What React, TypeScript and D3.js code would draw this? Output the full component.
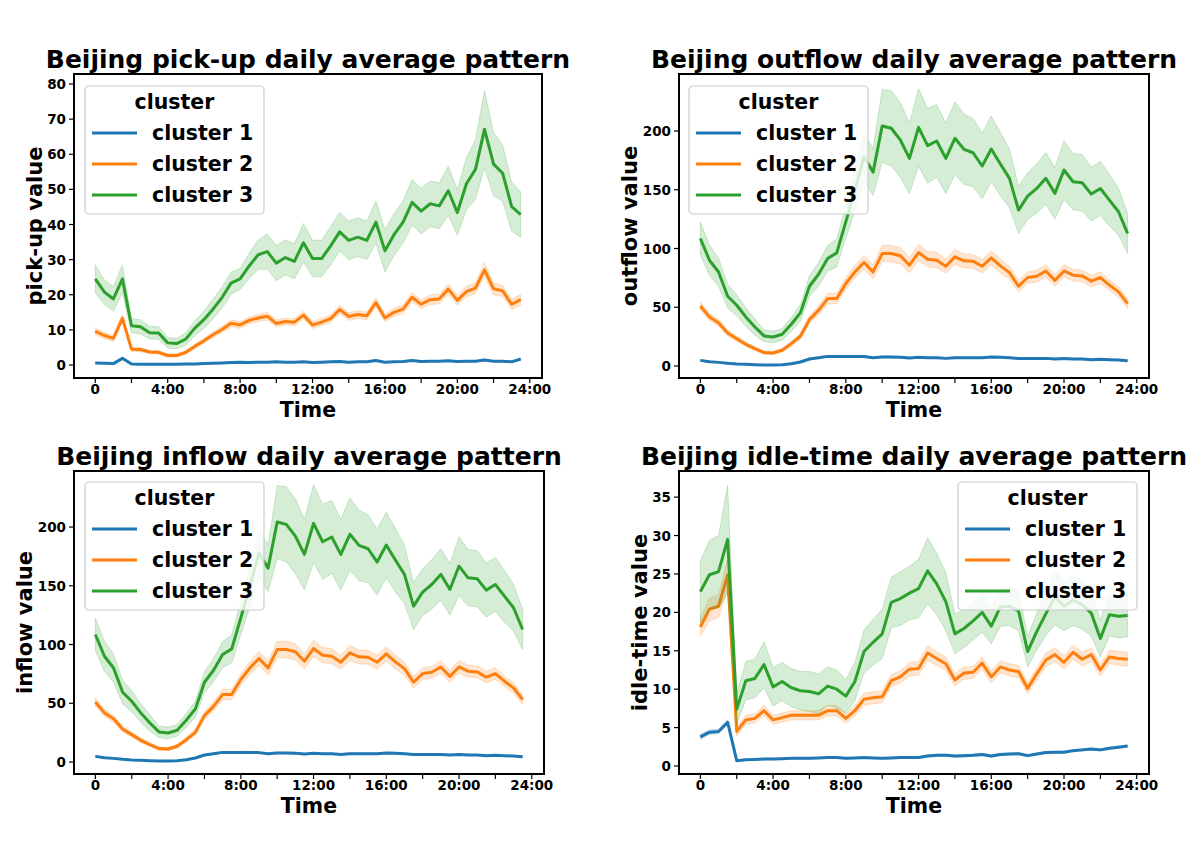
import React from 'react';
import * as d3 from 'd3';

// 반시간 간격 (0, 0.5, ... 23.5)
const hours = d3.range(48).map((i) => i / 2);
const clusterNames = ['cluster 1', 'cluster 2', 'cluster 3'];
const clusterColors = ['#1f77b4', '#ff7f0e', '#2ca02c'];
const xTickHours = [0, 2, 4, 6, 8, 10, 12, 14, 16, 18, 20, 22, 24];

// pick-up
const pickupC1 = [0.6, 0.5, 0.4, 1.9, 0.3, 0.2, 0.2, 0.2, 0.2, 0.2, 0.3, 0.3, 0.4, 0.5, 0.6, 0.7, 0.8, 0.7, 0.8, 0.8, 0.9, 0.8, 0.8, 0.9, 0.7, 0.8, 0.9, 1.0, 0.8, 0.9, 0.9, 1.3, 0.8, 0.9, 1.0, 1.3, 1.0, 1.1, 1.1, 1.2, 1.0, 1.1, 1.1, 1.4, 1.1, 1.1, 0.9, 1.7];
const pickupC1Err = [0.2, 0.2, 0.2, 0.3, 0.1, 0.1, 0.1, 0.1, 0.1, 0.1, 0.1, 0.1, 0.1, 0.1, 0.1, 0.1, 0.1, 0.1, 0.1, 0.1, 0.1, 0.1, 0.1, 0.1, 0.1, 0.1, 0.1, 0.1, 0.1, 0.1, 0.1, 0.2, 0.1, 0.1, 0.1, 0.2, 0.1, 0.1, 0.1, 0.2, 0.1, 0.1, 0.1, 0.2, 0.1, 0.1, 0.1, 0.2];
const pickupC2 = [9.6, 8.4, 7.6, 13.3, 4.5, 4.4, 3.7, 3.6, 2.7, 2.7, 3.6, 5.3, 6.9, 8.6, 10.1, 11.9, 11.4, 12.7, 13.4, 13.9, 11.8, 12.4, 12.2, 14.2, 11.4, 12.2, 13.2, 15.8, 13.8, 14.4, 14.0, 17.8, 13.4, 15.0, 15.9, 19.3, 17.3, 18.6, 18.8, 21.6, 18.4, 20.9, 21.9, 27.1, 21.7, 21.1, 17.3, 18.6];
const pickupC2Err = [1.0, 0.9, 0.9, 1.2, 0.6, 0.6, 0.5, 0.5, 0.5, 0.5, 0.5, 0.6, 0.7, 0.8, 0.9, 1.0, 1.0, 1.0, 1.0, 1.1, 1.0, 1.0, 1.0, 1.1, 1.0, 1.0, 1.1, 1.2, 1.1, 1.1, 1.1, 1.3, 1.1, 1.2, 1.2, 1.4, 1.3, 1.4, 1.4, 1.5, 1.4, 1.5, 1.6, 2.0, 1.7, 1.6, 1.5, 1.5];
const pickupC3 = [24.5, 20.8, 18.8, 24.5, 11.2, 10.9, 9.2, 9.1, 6.3, 6.1, 7.4, 10.5, 12.9, 15.9, 19.2, 23.3, 24.5, 28.2, 31.4, 32.3, 29.0, 30.6, 29.5, 34.8, 30.3, 30.3, 33.9, 37.9, 35.5, 36.4, 35.5, 40.7, 32.5, 37.1, 40.7, 46.3, 43.8, 45.9, 45.3, 49.6, 43.4, 51.6, 55.7, 67.1, 57.2, 54.6, 45.1, 42.8];
const pickupC3Err = [4.0, 3.5, 3.5, 4.0, 2.0, 2.0, 1.8, 1.8, 1.5, 1.5, 1.8, 2.2, 2.5, 2.8, 3.0, 3.2, 3.0, 3.6, 4.2, 5.0, 5.0, 5.0, 5.0, 5.5, 5.2, 5.2, 5.5, 5.5, 5.5, 5.5, 5.5, 6.0, 6.0, 6.0, 6.0, 6.5, 6.5, 6.5, 6.5, 7.0, 6.5, 7.5, 8.5, 11.0, 9.0, 8.0, 7.0, 6.5];

// outflow
const outflowC1 = [4.8, 3.7, 3.1, 2.3, 1.7, 1.4, 1.1, 0.9, 0.9, 1.1, 2.0, 3.4, 6.0, 7.1, 8.2, 8.0, 8.2, 8.2, 8.0, 7.1, 7.7, 7.7, 7.4, 6.8, 7.4, 7.1, 7.1, 6.5, 7.1, 7.1, 7.1, 7.1, 7.7, 7.4, 7.1, 6.3, 6.5, 6.5, 6.5, 6.0, 6.3, 6.0, 6.0, 5.4, 5.7, 5.4, 5.1, 4.5];
const outflowC1Err = [0.6, 0.5, 0.5, 0.4, 0.3, 0.3, 0.3, 0.2, 0.2, 0.3, 0.3, 0.4, 0.6, 0.7, 0.8, 0.8, 0.8, 0.8, 0.8, 0.7, 0.7, 0.7, 0.7, 0.7, 0.7, 0.7, 0.7, 0.6, 0.7, 0.7, 0.7, 0.7, 0.7, 0.7, 0.7, 0.6, 0.6, 0.6, 0.6, 0.6, 0.6, 0.6, 0.6, 0.5, 0.5, 0.5, 0.5, 0.5];
const outflowC2 = [51.1, 41.8, 36.9, 28.1, 23.3, 18.5, 14.8, 11.4, 11.1, 13.4, 19.0, 25.3, 39.5, 47.4, 57.4, 57.4, 70.2, 80.1, 88.1, 80.1, 95.7, 95.7, 93.8, 85.8, 96.6, 90.9, 90.1, 84.9, 92.9, 89.5, 89.2, 84.9, 92.0, 85.2, 79.5, 67.9, 75.3, 76.4, 80.9, 72.9, 80.9, 77.3, 76.7, 72.2, 75.3, 68.8, 63.1, 53.1];
const outflowC2Err = [3.5, 3, 3, 2.5, 2, 2, 1.5, 1.5, 1.5, 1.5, 2, 2.5, 3.5, 4, 4.5, 4.5, 5, 5.5, 6, 6, 7, 7, 7, 6.5, 7, 6.5, 6.5, 6, 6.5, 6, 6, 6, 6, 6, 5.5, 5, 5, 5, 5.5, 5, 5.5, 5, 5, 5, 5, 4.5, 4.5, 4];
const outflowC3 = [108.5, 90, 80, 59.4, 51.7, 41.8, 33.2, 25.6, 24.7, 27, 35.5, 45.2, 67.9, 78.1, 91.5, 96.3, 122.7, 150, 178, 165, 204.3, 202.3, 192.3, 176.7, 203.1, 187.5, 191.5, 176.7, 193.8, 184.4, 181.5, 170.2, 184.7, 171.9, 159.7, 132.7, 144.6, 151.1, 159.7, 146.9, 166.8, 156.8, 156.0, 146.3, 151.1, 141.2, 131.3, 112.8];
const outflowC3Err = [14, 13, 12, 10, 9, 8, 7, 5, 5, 5, 6, 7, 9, 10, 11, 12, 14, 18, 20, 20, 31, 32, 32, 30, 33, 32, 31, 30, 31, 30, 29, 28, 28, 27, 25, 20, 20, 21, 22, 22, 25, 24, 24, 23, 23, 22, 20, 17];

// inflow (그림상 outflow와 동일)
const inflowC1 = outflowC1;
const inflowC1Err = outflowC1Err;
const inflowC2 = outflowC2;
const inflowC2Err = outflowC2Err;
const inflowC3 = outflowC3;
const inflowC3Err = outflowC3Err;

// idle-time
const idleC1 = [3.8, 4.4, 4.5, 5.7, 0.7, 0.8, 0.85, 0.9, 0.9, 0.95, 1.0, 1.0, 1.0, 1.05, 1.1, 1.1, 1.0, 1.05, 1.1, 1.05, 1.0, 1.05, 1.1, 1.1, 1.1, 1.3, 1.4, 1.4, 1.3, 1.35, 1.4, 1.5, 1.3, 1.5, 1.55, 1.6, 1.35, 1.55, 1.75, 1.8, 1.8, 2.0, 2.1, 2.2, 2.1, 2.3, 2.45, 2.6];
const idleC1Err = [0.3, 0.3, 0.3, 0.3, 0.1, 0.1, 0.1, 0.1, 0.1, 0.1, 0.1, 0.1, 0.1, 0.1, 0.1, 0.1, 0.1, 0.1, 0.1, 0.1, 0.1, 0.1, 0.1, 0.1, 0.1, 0.15, 0.15, 0.15, 0.15, 0.15, 0.15, 0.15, 0.15, 0.15, 0.15, 0.15, 0.15, 0.15, 0.15, 0.15, 0.15, 0.15, 0.15, 0.15, 0.15, 0.15, 0.15, 0.15];
const idleC2 = [18.1, 20.4, 20.8, 24.9, 4.5, 6.0, 6.2, 7.2, 6.0, 6.3, 6.6, 6.6, 6.6, 6.6, 7.2, 7.2, 6.2, 7.2, 8.7, 8.9, 9.0, 11.1, 11.6, 12.6, 12.7, 14.7, 14.0, 13.3, 11.2, 12.1, 12.2, 13.4, 11.6, 12.9, 12.5, 12.3, 10.1, 12.0, 13.8, 14.5, 13.5, 14.8, 13.9, 14.5, 12.5, 14.2, 14.0, 13.9];
const idleC2Err = [1.2, 1.5, 1.5, 2.0, 0.6, 0.6, 0.6, 0.7, 0.6, 0.6, 0.6, 0.6, 0.6, 0.6, 0.7, 0.7, 0.6, 0.7, 0.8, 0.8, 0.8, 0.8, 0.8, 0.9, 0.9, 1.0, 0.9, 0.9, 0.8, 0.8, 0.8, 0.8, 0.8, 0.8, 0.8, 0.8, 0.7, 0.8, 0.9, 0.9, 0.9, 0.9, 0.9, 0.9, 0.8, 0.9, 0.9, 0.9];
const idleC3 = [22.7, 24.9, 25.3, 29.5, 7.4, 11.1, 11.4, 13.2, 10.3, 11.0, 10.2, 9.8, 9.7, 9.4, 10.4, 10.0, 9.1, 11.0, 14.9, 16.1, 17.2, 21.3, 21.8, 22.5, 23.1, 25.4, 23.7, 21.4, 17.2, 17.9, 18.9, 20.0, 18.2, 20.7, 20.8, 20.2, 14.9, 17.5, 19.8, 22.0, 20.8, 21.6, 21.0, 19.9, 16.6, 19.7, 19.5, 19.6];
const idleC3Err = [4.0, 4.5, 4.7, 7.0, 2.0, 2.5, 2.5, 3.0, 2.5, 2.5, 2.5, 2.5, 2.6, 2.6, 2.5, 2.5, 2.2, 2.5, 2.8, 3.0, 3.2, 3.3, 3.5, 3.5, 3.8, 4.3, 4.0, 3.8, 2.6, 2.5, 2.5, 2.6, 2.3, 2.5, 2.5, 2.6, 2.0, 2.4, 2.8, 3.6, 3.2, 3.3, 3.2, 3.0, 2.4, 2.8, 2.8, 2.8];

const pickupTicks = [0, 10, 20, 30, 40, 50, 60, 70, 80];
const flowTicks = [0, 50, 100, 150, 200];
const idleTicks = [0, 5, 10, 15, 20, 25, 30, 35];

const FONT = '"DejaVu Sans", sans-serif';

interface PanelProps {
  left: number;
  top: number;
  width: number;
  height: number;
  yDomain: [number, number];
  yTicks: number[];
  title: string;
  yLabel: string;
  yLabelX: number;
  means: number[][];
  errs: number[][];
  legendX: number;
  legendY: number;
}

function Panel({ left, top, width, height, yDomain, yTicks, title, yLabel, yLabelX, means, errs, legendX, legendY }: PanelProps) {
  const x = d3.scaleLinear().domain([-1.175, 24.675]).range([left, left + width]);
  const y = d3.scaleLinear().domain(yDomain).range([top + height, top]);
  const bottom = top + height;
  const idx = d3.range(hours.length);

  const legendW = 179;
  const legendH = 128;

  return (
    <g fontFamily={FONT} fontWeight="bold">
      {/* 신뢰구간 + 평균선 */}
      {means.map((mean, k) => {
        const err = errs[k];
        const area = d3
          .area<number>()
          .x((i) => x(hours[i]))
          .y0((i) => y(mean[i] - err[i]))
          .y1((i) => y(mean[i] + err[i]));
        const line = d3
          .line<number>()
          .x((i) => x(hours[i]))
          .y((i) => y(mean[i]));
        return (
          <g key={k}>
            <path d={area(idx) as string} fill={clusterColors[k]} fillOpacity={0.2} stroke={clusterColors[k]} strokeOpacity={0.2} strokeWidth={1} />
            <path d={line(idx) as string} fill="none" stroke={clusterColors[k]} strokeWidth={3} strokeLinejoin="round" />
          </g>
        );
      })}

      {/* 축 테두리 */}
      <rect x={left} y={top} width={width} height={height} fill="none" stroke="#000" strokeWidth={2} />

      {/* x 눈금 */}
      {xTickHours.map((h) => (
        <g key={h}>
          <line x1={x(h)} x2={x(h)} y1={bottom} y2={bottom + 5} stroke="#000" strokeWidth={1.2} />
          {h % 4 === 0 && (
            <text x={x(h)} y={bottom + 16} textAnchor="middle" fontSize={13.5}>
              {h === 0 ? '0' : `${h}:00`}
            </text>
          )}
        </g>
      ))}

      {/* y 눈금 */}
      {yTicks.map((t) => (
        <g key={t}>
          <line x1={left - 5} x2={left} y1={y(t)} y2={y(t)} stroke="#000" strokeWidth={1.2} />
          <text x={left - 8} y={y(t)} textAnchor="end" dominantBaseline="central" fontSize={13.5}>
            {t}
          </text>
        </g>
      ))}

      <text x={left + width / 2} y={bottom + 39} textAnchor="middle" fontSize={20.5}>
        Time
      </text>
      <text
        transform={`translate(${yLabelX}, ${top + height / 2}) rotate(-90)`}
        textAnchor="middle"
        dominantBaseline="central"
        fontSize={21}>
        {yLabel}
      </text>
      <text x={left + width / 2} y={top - 6} textAnchor="middle" fontSize={25}>
        {title}
      </text>

      {/* 범례 */}
      <g transform={`translate(${legendX}, ${legendY})`}>
        <rect x={0} y={0} width={legendW} height={legendH} rx={4} fill="#fff" fillOpacity={0.8} stroke="#cccccc" strokeWidth={1.2} />
        <text x={legendW / 2} y={16} textAnchor="middle" dominantBaseline="central" fontSize={20.5}>
          cluster
        </text>
        {clusterNames.map((name, k) => (
          <g key={name} transform={`translate(0, ${47 + k * 31})`}>
            <line x1={7} x2={52} y1={0} y2={0} stroke={clusterColors[k]} strokeWidth={3} />
            <text x={67} y={0} dominantBaseline="central" fontSize={20.5}>
              {name}
            </text>
          </g>
        ))}
      </g>
    </g>
  );
}

export default function App() {
  return (
    <svg width={1196} height={852} style={{ position: 'absolute', left: 0, top: 0, background: '#fff' }}>
      <rect width={1196} height={852} fill="#fff" />
      <Panel
        left={74}
        top={74}
        width={468}
        height={304}
        yDomain={[-3.7, 82.85]}
        yTicks={pickupTicks}
        title="Beijing pick-up daily average pattern"
        yLabel="pick-up value"
        yLabelX={35}
        means={[pickupC1, pickupC2, pickupC3]}
        errs={[pickupC1Err, pickupC2Err, pickupC3Err]}
        legendX={85}
        legendY={86}
      />
      <Panel
        left={679}
        top={74}
        width={470}
        height={304}
        yDomain={[-10.2, 248.5]}
        yTicks={flowTicks}
        title="Beijing outflow daily average pattern"
        yLabel="outflow value"
        yLabelX={630}
        means={[outflowC1, outflowC2, outflowC3]}
        errs={[outflowC1Err, outflowC2Err, outflowC3Err]}
        legendX={689}
        legendY={86}
      />
      <Panel
        left={74}
        top={471}
        width={470}
        height={303}
        yDomain={[-10.2, 247.7]}
        yTicks={flowTicks}
        title="Beijing inflow daily average pattern"
        yLabel="inflow value"
        yLabelX={25}
        means={[inflowC1, inflowC2, inflowC3]}
        errs={[inflowC1Err, inflowC2Err, inflowC3Err]}
        legendX={85}
        legendY={482}
      />
      <Panel
        left={679}
        top={471}
        width={470}
        height={303}
        yDomain={[-1.04, 38.4]}
        yTicks={idleTicks}
        title="Beijing idle-time daily average pattern"
        yLabel="idle-time value"
        yLabelX={640}
        means={[idleC1, idleC2, idleC3]}
        errs={[idleC1Err, idleC2Err, idleC3Err]}
        legendX={958}
        legendY={482}
      />
    </svg>
  );
}
